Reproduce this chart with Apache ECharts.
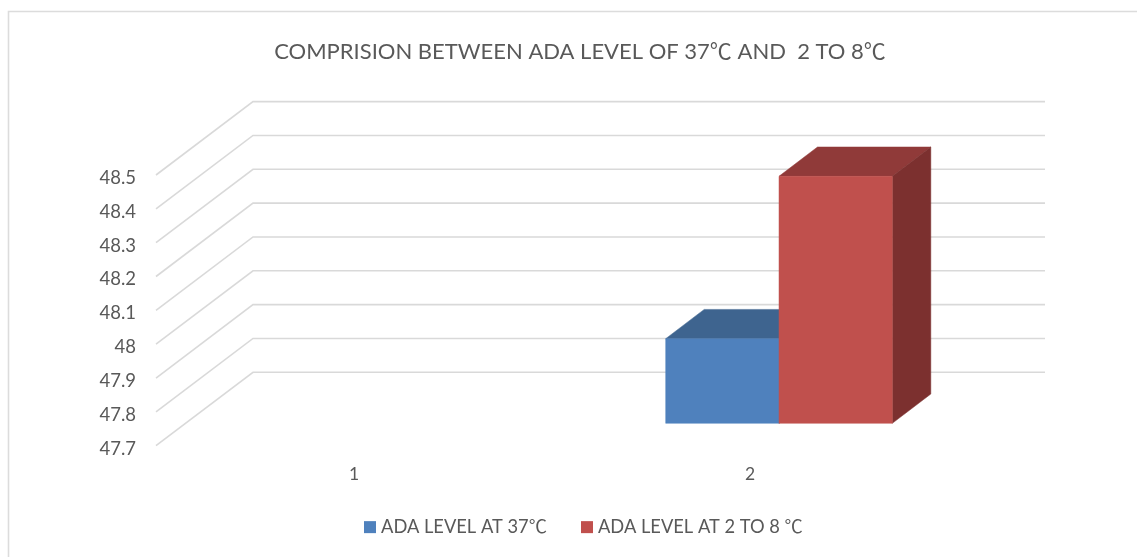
<!DOCTYPE html>
<html><head><meta charset="utf-8">
<style>html,body{margin:0;padding:0;background:#fff}#c{width:1137px;height:557px}</style>
<script src="https://cdn.jsdelivr.net/npm/echarts@6/dist/echarts.min.js"></script>
</head><body><div id="c"></div>
<script>
var titleText = 'COMPRISION BETWEEN ADA LEVEL OF 37℃ AND  2 TO 8℃';
var categories = ['1', '2'];
var seriesNames = ['ADA LEVEL AT 37℃', 'ADA LEVEL AT 2 TO 8 ℃'];
var ada37 = [null, 47.95];
var ada2to8 = [null, 48.43];
var tickValues = [47.7, 47.8, 47.9, 48, 48.1, 48.2, 48.3, 48.4, 48.5];

var FONT = 'Lato, "Noto Sans CJK SC", sans-serif';
var TEXT = '#595959';
var WALL = [97, -73.4];
var GAP = [29, -22.4];
var DEPTH = [38.5, -29.3];
var BAR_W = 113.3;

function poly(points, fill) {
  return {type: 'polygon', shape: {points: points}, style: {fill: fill, stroke: fill, lineWidth: 0.5}};
}
function barItem(dir, front, top, side) {
  return function (params, api) {
    var v = api.value(1);
    if (v == null || isNaN(v)) return;
    var c = api.coord([api.value(0), v]);
    var b = api.coord([api.value(0), 47.7]);
    var x0 = c[0] + GAP[0] + (dir < 0 ? -BAR_W : 0), x1 = x0 + BAR_W;
    var yT = c[1] + GAP[1], yB = b[1] + GAP[1];
    var dx = DEPTH[0], dy = DEPTH[1];
    return {type: 'group', children: [
      poly([[x0, yT], [x0 + dx, yT + dy], [x1 + dx, yT + dy], [x1, yT]], top),
      poly([[x1, yT], [x1 + dx, yT + dy], [x1 + dx, yB + dy], [x1, yB]], side),
      poly([[x0, yT], [x1, yT], [x1, yB], [x0, yB]], front)
    ]};
  };
}
var chart = echarts.init(document.getElementById('c'), null, {renderer: 'canvas'});
chart.setOption({
  animation: false,
  backgroundColor: '#fff',
  title: {text: titleText, left: 575, top: 36, textAlign: 'center',
    textStyle: {fontFamily: FONT, fontSize: 22, fontWeight: 'normal', color: TEXT}},
  legend: {left: 364, top: 518, padding: 0, itemWidth: 12, itemHeight: 12, itemGap: 34, icon: 'rect',
    data: seriesNames,
    textStyle: {fontFamily: FONT, fontSize: 18.3, color: TEXT}},
  grid: {left: 156, right: 189, top: 175, height: 270.7},
  xAxis: {type: 'category', data: categories, axisLine: {show: false}, axisTick: {show: false},
    axisLabel: {margin: 20, fontFamily: FONT, fontSize: 17.5, color: TEXT}},
  yAxis: {type: 'value', min: tickValues[0], max: tickValues[tickValues.length - 1], interval: 0.1,
    axisLine: {show: false}, axisTick: {show: false}, splitLine: {show: false},
    axisLabel: {margin: 20, fontFamily: FONT, fontSize: 18.5, color: TEXT, verticalAlign: 'top', lineHeight: 6}},
  series: [
    {type: 'custom', silent: true, z: 1, data: tickValues.map(function (t) { return [0, t]; }),
      encode: {x: 0, y: 1},
      renderItem: function (params, api) {
        var p = api.coord([0, api.value(1)]);
        var x0 = params.coordSys.x, x1 = x0 + params.coordSys.width, y = p[1];
        return {type: 'polyline', shape: {points: [[x0, y], [x0 + WALL[0], y + WALL[1]], [x1 + WALL[0], y + WALL[1]]]},
          style: {fill: 'none', stroke: '#d9d9d9', lineWidth: 1.6}};
      }},
    {name: seriesNames[0], type: 'custom', z: 2, itemStyle: {color: '#4f81bd'},
      data: categories.map(function (c, i) { return [i, ada37[i]]; }), encode: {x: 0, y: 1},
      renderItem: barItem(-1, '#4f81bd', '#3e648f', '#34557c')},
    {name: seriesNames[1], type: 'custom', z: 3, itemStyle: {color: '#c0504d'},
      data: categories.map(function (c, i) { return [i, ada2to8[i]]; }), encode: {x: 0, y: 1},
      renderItem: barItem(1, '#c0504d', '#903a39', '#7c302f')}
  ],
  graphic: [{type: 'rect', silent: true, z: -1,
    shape: {x: 8.5, y: 11.5, width: 1140, height: 600},
    style: {fill: 'none', stroke: '#dcdcdc', lineWidth: 1.6}}]
});
</script></body></html>
